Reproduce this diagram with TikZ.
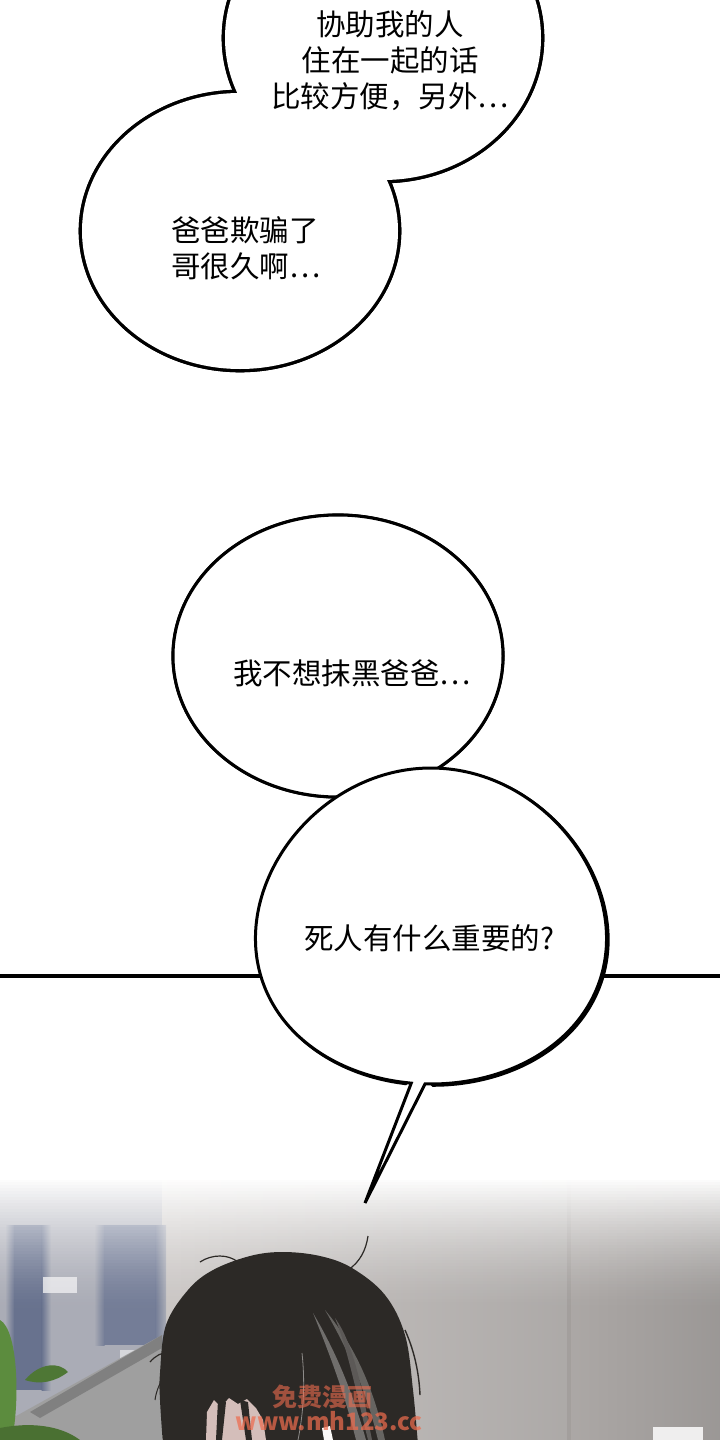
\documentclass[tikz,border=0pt]{standalone}
\usepackage{fontspec}
\setmainfont{Noto Sans CJK SC}
\definecolor{hairc}{RGB}{44,41,38}
\definecolor{hairhi}{RGB}{112,110,108}
\definecolor{skin}{RGB}{212,190,186}
\definecolor{wmark}{RGB}{238,108,78}
\definecolor{bgmid}{RGB}{203,199,197}
\definecolor{bgright}{RGB}{176,172,170}
\definecolor{bgleft}{RGB}{170,172,182}
\definecolor{colblue}{RGB}{104,114,142}
\definecolor{leaf}{RGB}{92,140,62}
\tikzset{
  bubbleline/.style={draw=black, line width=3.4pt},
  bubblefill/.style={fill=white},
  say/.style={inner sep=0pt, font=\fontsize{29.5}{36}\selectfont, align=center},
  wm/.style={inner sep=0pt, text=wmark, opacity=0.72, font=\bfseries}
}
\begin{document}
\begin{tikzpicture}[x=1pt,y=-1pt]
\useasboundingbox (0,0) rectangle (720,1440);
\clip (0,0) rectangle (720,1440);
\fill[white] (0,0) rectangle (720,1440);

% ---------- bottom scene background ----------
\shade[left color=bgmid, right color=bgmid!85!black] (160,1180) rectangle (570,1440);
\shade[left color=bgright!105, right color=bgright!88!black] (567,1180) rectangle (720,1440);
\fill[bgleft] (0,1180) rectangle (162,1440);
% left column
\shade[left color=bgleft, right color=colblue] (5,1225) rectangle (14.5,1390);
\fill[colblue] (14,1225) rectangle (42,1390);
\shade[left color=colblue, right color=bgleft] (41.5,1225) rectangle (51,1390);
% second column
\shade[left color=bgleft, right color=colblue!92!white] (94,1225) rectangle (104.5,1345);
\fill[colblue!92!white] (104,1225) rectangle (156,1345);
\shade[left color=colblue!92!white, right color=bgleft] (155.5,1225) rectangle (166,1345);
\fill[white!80!bgleft, opacity=0.8] (43,1277) rectangle (77,1293);
\fill[white!65!bgleft, opacity=0.8] (120,1350) rectangle (150,1380);
\fill[gray!75] (0,1440) -- (0,1425) -- (162,1335) -- (162,1440) -- cycle;
\fill[gray!95!black, opacity=0.8] (162,1335) -- (162,1348) -- (40,1418) -- (30,1412) -- cycle;
\fill[leaf] (0,1320) .. controls (18,1330) and (20,1400) .. (12,1440) -- (0,1440) -- cycle;
\fill[leaf!85!black] (25,1380) .. controls (40,1362) and (60,1362) .. (68,1372) .. controls (55,1382) and (40,1385) .. (25,1380) -- cycle;
\fill[leaf!80!black] (0,1428) .. controls (30,1422) and (60,1425) .. (80,1440) -- (0,1440) -- cycle;
\fill[white!80!bgright] (653,1427) rectangle (703,1440);
\fill[black, opacity=0.05] (567,1180) rectangle (571,1440);

% white fade from the top
\foreach \i in {0,...,44}{
  \pgfmathsetmacro\op{(1-\i/45)^1.6}
  \fill[white, opacity=\op] (0,{1176+3*\i}) rectangle (720,{1179.4+3*\i});
}
\fill[white] (0,1150) rectangle (720,1177);

% ---------- hair ----------
\fill[hairc] plot[smooth, tension=0.6] coordinates {(163,1445) (160,1400) (160,1373) (166,1325) (188,1290) (213,1270) (250,1256) (283,1252) (320,1256) (352,1268) (385,1295) (405,1335) (413,1390) (418,1445)} -- cycle;
\fill[skin] (206,1440) -- (207,1412) -- (214,1400) -- (221,1407) -- (229,1398) -- (238,1404) -- (247,1399) -- (256,1408) -- (263,1420) -- (266,1440) -- cycle;
\fill[hairc] (218,1400) -- (226,1402) -- (222,1440) -- (216,1440) -- cycle;
\fill[hairc] (240,1400) -- (248,1402) -- (252,1440) -- (246,1440) -- cycle;
\fill[white!90!skin] (322,1428) -- (330,1426) -- (333,1440) -- (324,1440) -- cycle;
\fill[hairhi] (313,1313) .. controls (335,1350) and (352,1390) .. (366,1440) -- (356,1440) .. controls (345,1395) and (330,1355) .. (313,1313) -- cycle;
\fill[hairhi!85!hairc] (325,1310) .. controls (350,1340) and (372,1380) .. (385,1440) -- (378,1440) .. controls (365,1385) and (345,1345) .. (325,1310) -- cycle;
\fill[hairhi!70!hairc] (335,1318) .. controls (355,1345) and (364,1400) .. (372,1440) -- (368,1440) .. controls (358,1400) and (348,1350) .. (335,1318) -- cycle;
\draw[hairhi!80!white, line width=0.8pt] (302,1353) .. controls (306,1390) and (302,1420) .. (298,1440);
\draw[hairc, line width=1.2pt] (200,1262) .. controls (212,1254) and (228,1254) .. (238,1262);
\draw[hairc, line width=1.2pt] (368,1236) .. controls (366,1250) and (360,1262) .. (348,1270);
\draw[hairc, line width=1.4pt] (405,1330) .. controls (414,1350) and (419,1372) .. (420,1395);
\draw[hairc, line width=1.2pt] (170,1352) .. controls (162,1352) and (155,1356) .. (150,1362);
\draw[hairc, line width=1.0pt] (168,1372) .. controls (160,1380) and (156,1392) .. (155,1400);

% ---------- panel border line ----------
\coordinate (lineL) at (0,976);
\coordinate (lineR) at (720,976);
\draw[line width=4pt] (lineL) -- (lineR);

% ---------- bubbles 1 + 2 (merged) ----------
\coordinate (cA) at (383,38);
\coordinate (cB) at (240,231);
\draw[line width=6.6pt] (cA) ellipse [x radius=158, y radius=142];
\draw[line width=6.6pt] (cB) ellipse [x radius=158, y radius=138];
\draw[line width=6.6pt, shift={(1.5,1)}] (cA) ellipse [x radius=158, y radius=142];
\draw[line width=6.6pt, shift={(1.2,0.8)}] (cB) ellipse [x radius=158, y radius=138];
\fill[white] (cA) ellipse [x radius=158, y radius=142];
\fill[white] (cB) ellipse [x radius=158, y radius=138];

% ---------- bubble 3 ----------
\coordinate (cC) at (338,656);
\draw[line width=3.2pt, shift={(1.6,1.2)}] (cC) ellipse [x radius=165, y radius=141];
\path[bubbleline, line width=3pt, bubblefill] (cC) ellipse [x radius=165, y radius=141];

% ---------- bubble 4 with tail ----------
\coordinate (tip) at (365,1203);
\draw[line width=3.2pt, line cap=round, shift={(1.5,1.2)}] plot[smooth, samples=90, domain=-262:90, variable=\t] ({431+175*cos(\t)*(1+0.08*sin(\t))},{926+158*sin(\t)});
\path[bubbleline, line width=3pt, bubblefill, line join=miter] plot[smooth, samples=90, domain=-264:91.8, variable=\t] ({431+175*cos(\t)*(1+0.08*sin(\t))},{926+158*sin(\t)}) -- (tip) -- cycle;

% ---------- texts ----------
\node[say] (t1) at (390,61) {协助我的人\\住在一起的话\\比较方便，另外…};
\node[say, align=left, anchor=west] (t2) at (171,248) {爸爸欺骗了\\哥很久啊…};
\node[say] (t3) at (352,673) {我不想抹黑爸爸…};
\node[say] (t4) at (429,938) {死人有什么重要的?};

% ---------- watermark ----------
\node[wm, opacity=0.6, font=\bfseries\fontsize{25}{25}\selectfont] (wm1) at (322,1397) {免费漫画};
\node[wm, font=\bfseries\fontsize{24}{24}\selectfont] (wm2) at (329,1421) {www.mh123.cc};
\end{tikzpicture}
\end{document}
